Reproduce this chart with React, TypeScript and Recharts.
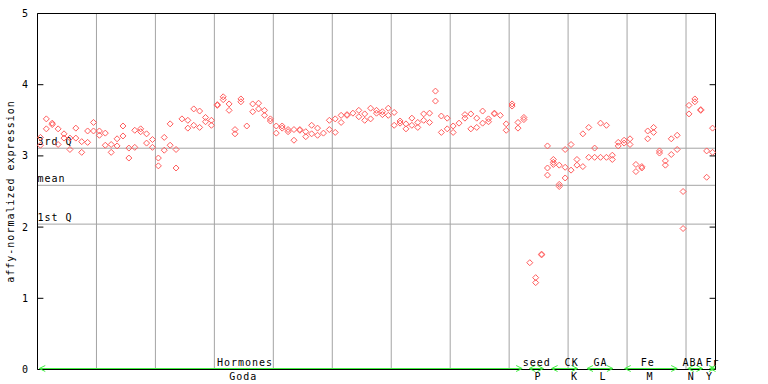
import { ScatterChart, Scatter, XAxis, YAxis, ReferenceLine, ReferenceDot } from 'recharts'

// two (sometimes three) replicate values per sample, samples sit at i + 0.5
const repA = [
  3.26, 3.52, 3.46, 3.38, 3.31, 3.25, 3.39, 3.20, 3.35, 3.47,
  3.35, 3.32, 3.16, 3.24, 3.42, 3.11, 3.36, 3.38, 3.31, 3.23,
  2.97, 3.26, 3.45, 3.09, 3.52, 3.50, 3.66, 3.63, 3.54, 3.50,
  3.72, 3.83, 3.73, 3.37, 3.80, 3.42, 3.73, 3.74, 3.64, 3.52,
  3.42, 3.42, 3.37, 3.37, 3.37, 3.34, 3.43, 3.39, 3.32, 3.50,
  3.52, 3.57, 3.58, 3.60, 3.64, 3.59, 3.67, 3.64, 3.62, 3.67,
  3.61, 3.49, 3.45, 3.53, 3.47, 3.59, 3.60, 3.91, 3.56, 3.53,
  3.42, 3.46, 3.58, 3.59, 3.53, 3.63, 3.52, 3.60, 3.57, 3.45,
  3.73, 3.47, 3.54, 1.50, 1.29, 1.62, 3.14, 2.95, 2.87, 3.09,
  3.16, 2.95, 3.31, 3.40, 3.11, 3.46, 3.43, 3.01, 3.19, 3.22,
  3.24, 2.88, 2.85, 3.35, 3.40, 3.07, 2.93, 3.24, 3.29, 2.50,
  3.71, 3.80, 3.65, 3.07, 3.39,
]
const repB = [
  3.15, 3.38, 3.44, 3.16, 3.25, 3.09, 3.25, 3.05, 3.19, 3.35,
  3.29, 3.15, 3.05, 3.14, 3.28, 2.97, 3.12, 3.34, 3.18, 3.12,
  2.86, 3.08, 3.15, 2.83, null, 3.39, 3.43, 3.40, 3.48, 3.43,
  3.71, 3.79, 3.64, 3.31, 3.76, null, 3.62, 3.66, 3.57, 3.49,
  3.32, 3.39, 3.34, 3.22, 3.36, 3.27, 3.31, 3.29, null, 3.37,
  3.33, 3.47, 3.57, null, 3.55, 3.50, 3.52, 3.60, 3.58, 3.57,
  3.43, 3.46, 3.38, 3.43, 3.40, 3.50, 3.47, 3.77, 3.33, 3.38,
  3.33, null, 3.53, 3.38, 3.40, 3.46, 3.48, 3.59, null, 3.36,
  3.70, 3.39, 3.51, null, 1.22, 1.61, 2.83, 2.88, 2.60, 2.84,
  2.80, 2.87, 2.85, 2.98, 2.98, 2.98, 2.98, 2.95, 3.14, 3.18,
  3.16, 2.78, 2.83, 3.24, 3.33, 3.04, 2.87, 3.02, 3.09, 1.98,
  3.59, 3.76, 3.64, 2.70, 3.05,
]
const repCIndex = [86, 87, 88, 89]
const repCValue = [2.73, 2.91, 2.57, 2.69]

const yTicks = [0, 1, 2, 3, 4, 5]
const gridX = [10, 20, 30, 40, 50, 60, 70, 80, 90, 100, 110]
const qLabels = ['3rd Q', 'mean', '1st Q']
const qValues = [3.108, 2.587, 2.042]

const groupTop = ['Hormones', 'seed', 'CK', 'GA', 'Fe', 'ABA', 'Fr']
const groupBottom = ['Goda', 'P', 'K', 'L', 'M', 'N', 'Y']
const groupStart = [0.3, 83.4, 87.2, 93.2, 99.6, 110.3, 114.0]
const groupEnd = [82.2, 85.8, 91.6, 97.6, 108.5, 112.8, 114.9]
const topPos = [35.2, 84.7, 90.6, 95.5, 103.5, 111.2, 114.5]
const bottomPos = [34.9, 84.9, 91.1, 95.9, 103.9, 110.9, 114.0]

const FONT = 'DejaVu Sans Mono'
const RED = '#ff5c5c'
const GRID = '#a4a4a4'
const GREEN = '#44ee44'

const toPoints = (arr: (number | null)[]) =>
  arr.map((v, i) => (v == null ? null : { x: i + 0.5, y: v })).filter(Boolean) as { x: number; y: number }[]

const dataA = toPoints(repA)
const dataB = toPoints(repB)
const dataC = repCIndex.map((i, k) => ({ x: i + 0.5, y: repCValue[k] }))

const Diamond = (p: any) => (
  <path
    d={`M${p.cx},${p.cy - 3}L${p.cx + 3},${p.cy}L${p.cx},${p.cy + 3}L${p.cx - 3},${p.cy}Z`}
    fill="none"
    stroke={RED}
    strokeWidth={1}
  />
)

const Arrow = (p: any) => {
  const y = p.y1 - 1
  return (
    <g stroke={GREEN} strokeWidth={1} fill="none">
      <line x1={p.x1} y1={y} x2={p.x2} y2={y} />
      <polyline points={`${p.x1 + 6},${y - 3} ${p.x1},${y} ${p.x1 + 6},${y + 3}`} />
      <polyline points={`${p.x2 - 6},${y - 3} ${p.x2},${y} ${p.x2 - 6},${y + 3}`} />
    </g>
  )
}

const textStyle = { fontFamily: FONT, fontSize: 10, letterSpacing: 1, fill: '#000' }

export default function App() {
  return (
    <div style={{ position: 'absolute', left: 0, top: 0, background: '#fff' }}>
      <ScatterChart width={768} height={384} margin={{ top: 13.5, right: 52.5, bottom: 14.5, left: 37.5 }}>
        <XAxis type="number" dataKey="x" domain={[0, 115]} hide height={0} />
        <YAxis type="number" dataKey="y" domain={[0, 5]} ticks={yTicks} hide width={0} />

        {gridX.map((v) => (
          <ReferenceLine key={'g' + v} x={v} stroke={GRID} strokeWidth={1} />
        ))}
        {qValues.map((v, i) => (
          <ReferenceLine key={'q' + i} y={v} stroke={GRID} strokeWidth={1} />
        ))}
        {qValues.map((v, i) => (
          <ReferenceDot
            key={'ql' + i}
            x={0}
            y={v}
            ifOverflow="visible"
            shape={(p: any) => (
              <text x={p.cx} y={p.cy - 3} style={textStyle}>{qLabels[i]}</text>
            )}
          />
        ))}

        {/* frame */}
        <ReferenceLine y={5} stroke="#000" strokeWidth={1} />
        <ReferenceLine y={0} stroke="#000" strokeWidth={1} />
        <ReferenceLine x={0} stroke="#000" strokeWidth={1} />
        <ReferenceLine x={115} stroke="#000" strokeWidth={1} />
        {yTicks.map((t) => (
          <ReferenceLine key={'tl' + t} segment={[{ x: 0, y: t }, { x: 1, y: t }]} stroke="#000" ifOverflow="visible" />
        ))}
        {yTicks.map((t) => (
          <ReferenceLine key={'tr' + t} segment={[{ x: 114, y: t }, { x: 115, y: t }]} stroke="#000" ifOverflow="visible" />
        ))}
        {yTicks.map((t) => (
          <ReferenceDot
            key={'yl' + t}
            x={0}
            y={t}
            ifOverflow="visible"
            shape={(p: any) => (
              <text x={p.cx - 8.5} y={p.cy} dy="0.355em" textAnchor="end" style={textStyle}>{t}</text>
            )}
          />
        ))}

        {/* y axis title */}
        <ReferenceDot
          x={0}
          y={2.5}
          ifOverflow="visible"
          shape={(p: any) => (
            <text
              x={14}
              y={p.cy}
              textAnchor="middle"
              transform={`rotate(-90, 14, ${p.cy})`}
              style={textStyle}
            >
              affy-normalized expression
            </text>
          )}
        />

        {/* sample groups along the bottom */}
        {groupStart.map((s, i) => (
          <ReferenceLine
            key={'ga' + i}
            segment={[{ x: s, y: 0 }, { x: groupEnd[i], y: 0 }]}
            ifOverflow="visible"
            shape={Arrow}
          />
        ))}
        {groupTop.map((g, i) => (
          <ReferenceDot
            key={'gt' + i}
            x={topPos[i]}
            y={0}
            ifOverflow="visible"
            shape={(p: any) => (
              <text x={p.cx} y={p.cy - 3.5} textAnchor="middle" style={textStyle}>{g}</text>
            )}
          />
        ))}
        {groupBottom.map((g, i) => (
          <ReferenceDot
            key={'gb' + i}
            x={bottomPos[i]}
            y={0}
            ifOverflow="visible"
            shape={(p: any) => (
              <text x={p.cx} y={p.cy + 10} textAnchor="middle" style={textStyle}>{g}</text>
            )}
          />
        ))}

        <Scatter data={dataA} shape={Diamond} isAnimationActive={false} />
        <Scatter data={dataB} shape={Diamond} isAnimationActive={false} />
        <Scatter data={dataC} shape={Diamond} isAnimationActive={false} />
      </ScatterChart>
    </div>
  )
}
